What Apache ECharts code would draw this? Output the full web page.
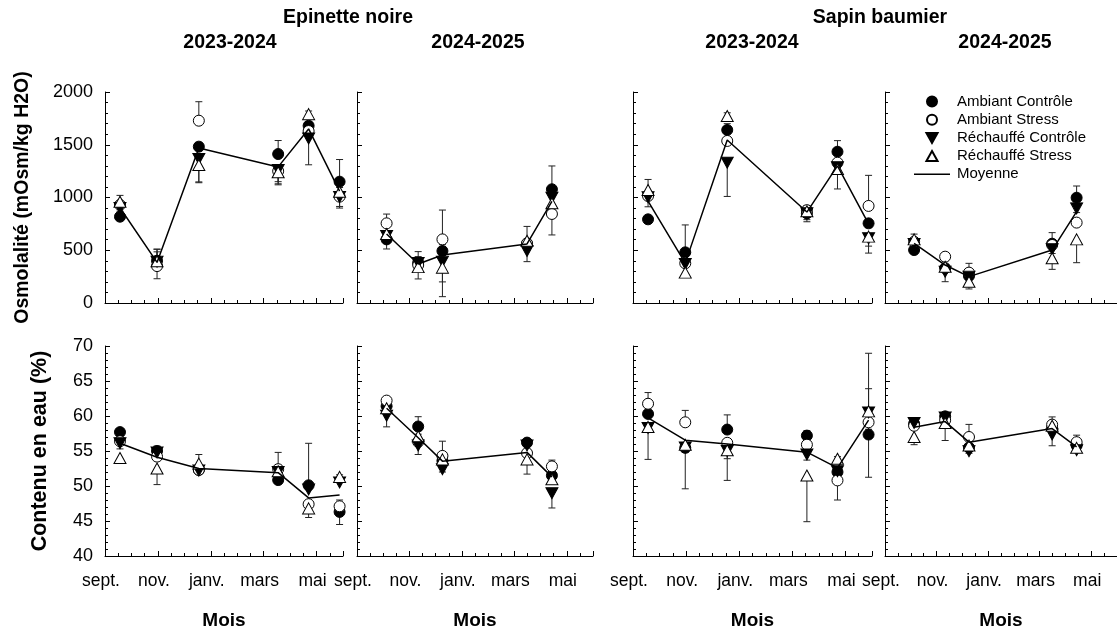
<!DOCTYPE html>
<html><head><meta charset="utf-8">
<script src="https://cdn.jsdelivr.net/npm/echarts@6/dist/echarts.min.js"></script>
<style>html,body{margin:0;padding:0;background:#fff}#c{width:1117px;height:631px}</style>
</head><body><div id="c"></div>
<script>
// ---------- labels ----------
const monthLabels = ['sept.', 'nov.', 'janv.', 'mars', 'mai'];
const speciesTitles = ['Epinette noire', 'Sapin baumier'];
const seasonTitles = ['2023-2024', '2024-2025', '2023-2024', '2024-2025'];
const groupNames = ['Ambiant Contrôle', 'Ambiant Stress', 'Réchauffé Contrôle', 'Réchauffé Stress'];
const meanName = 'Moyenne';
const yNameOsm = 'Osmolalité (mOsm/kg H2O)';
const yNameEau = 'Contenu en eau (%)';
const xName = 'Mois';

// ---------- sampling dates ----------
const dates2324 = ['2023-09-18', '2023-10-31', '2023-12-18', '2024-03-18', '2024-04-22', '2024-05-28'];
const dates2425 = ['2024-10-05', '2024-11-11', '2024-12-09', '2025-03-16', '2025-04-14'];

// ---------- Osmolalité : Epinette noire 2023-2024 ----------
const osm_EN23_AC = [818, 400, 1482, 1412, 1680, 1150];
const osm_EN23_AS = [930, 350, 1728, 1250, 1630, 1008];
const osm_EN23_RC = [900, 392, 1365, 1260, 1560, 1005];
const osm_EN23_RS = [960, 395, 1308, 1240, 1790, 1055];
const osm_EN23_mean = [903, 385, 1470, 1290, 1650, 1060];
const osm_EN23_errAC = [-30, 110, 40, 128, 40, 210];
const osm_EN23_errAS = [30, -120, 180, -130, -50, -108];
const osm_EN23_errRC = [-30, 118, -225, -110, -250, -90];
const osm_EN23_errRS = [60, 90, -160, -110, 30, 40];
// ---------- Osmolalité : Epinette noire 2024-2025 ----------
const osm_EN24_AC = [603, 382, 493, 560, 1078];
const osm_EN24_AS = [755, 360, 603, 566, 844];
const osm_EN24_RC = [635, 380, 392, 493, 998];
const osm_EN24_RS = [654, 340, 335, 590, 945];
const osm_EN24_mean = [654, 370, 455, 560, 963];
const osm_EN24_errAC = [-91, 105, 60, 40, 221];
const osm_EN24_errAS = [88, -60, 278, -40, -199];
const osm_EN24_errRC = [-30, 60, -192, -101, 60];
const osm_EN24_errRS = [30, -112, -275, 136, -60];
// ---------- Osmolalité : Sapin baumier 2023-2024 ----------
const osm_SB23_AC = [793, 480, 1640, 850, 1434, 755];
const osm_SB23_AS = [1014, 376, 1536, 880, 1330, 920];
const osm_SB23_RC = [1002, 370, 1330, 850, 1286, 613];
const osm_SB23_RS = [1071, 288, 1773, 870, 1270, 629];
const osm_SB23_mean = [965, 378, 1545, 862, 1300, 750];
const osm_SB23_errAC = [-30, 260, 60, -80, 105, -40];
const osm_SB23_errAS = [40, -30, -30, 40, -40, 290];
const osm_SB23_errRC = [-90, -30, -320, -60, -205, -140];
const osm_SB23_errRS = [100, -20, 30, 40, -30, -90];
// ---------- Osmolalité : Sapin baumier 2024-2025 ----------
const osm_SB24_AC = [502, 330, 256, 562, 998];
const osm_SB24_AS = [581, 439, 288, 550, 762];
const osm_SB24_RC = [560, 297, 250, 509, 897];
const osm_SB24_RS = [603, 344, 202, 424, 603];
const osm_SB24_mean = [566, 360, 250, 502, 866];
const osm_SB24_errAC = [-30, -30, -20, 105, 111];
const osm_SB24_errAS = [30, 30, 88, 40, -30];
const osm_SB24_errRC = [-20, -95, -20, -40, -40];
const osm_SB24_errRS = [50, 20, -69, -105, -221];

// ---------- Contenu en eau : Epinette noire 2023-2024 ----------
const eau_EN23_AC = [57.7, 55.0, 52.3, 50.85, 50.1, 46.3];
const eau_EN23_AS = [56.4, 54.2, 52.3, 52.4, 47.4, 47.1];
const eau_EN23_RC = [56.1, 54.8, 52.2, 52.0, 49.5, 50.5];
const eau_EN23_RS = [54.0, 52.5, 53.2, 52.1, 46.8, 51.3];
const eau_EN23_mean = [56.1, 54.1, 52.5, 51.9, 48.3, 48.7];
const eau_EN23_errAC = [0.3, 0.7, -0.3, -0.3, 6.0, -1.8];
const eau_EN23_errAS = [0.3, -0.3, 0.3, 2.4, -0.8, 0.9];
const eau_EN23_errRC = [-0.8, 0.5, -0.3, -0.3, 0.3, 0.3];
const eau_EN23_errRS = [-0.4, -2.3, 1.3, 0.3, -1.3, 0.3];
// ---------- Contenu en eau : Epinette noire 2024-2025 ----------
const eau_EN24_AC = [61.4, 58.5, 53.6, 56.2, 51.5];
const eau_EN24_AS = [62.2, 56.3, 54.3, 54.7, 52.8];
const eau_EN24_RC = [60.05, 55.8, 52.4, 55.8, 48.96];
const eau_EN24_RS = [61.1, 57.1, 53.8, 53.8, 50.95];
const eau_EN24_mean = [61.1, 56.9, 53.55, 54.8, 51.3];
const eau_EN24_errAC = [0.3, 1.4, 0.3, 0.4, -0.3];
const eau_EN24_errAS = [0.3, -0.3, 2.1, -0.3, 0.9];
const eau_EN24_errRC = [-1.6, -1.3, -0.4, 0.3, -2.1];
const eau_EN24_errRS = [0.3, 0.3, -0.3, -2.1, -0.3];
// ---------- Contenu en eau : Sapin baumier 2023-2024 ----------
const eau_SB23_AC = [60.3, 55.45, 58.06, 57.2, 52.0, 57.35];
const eau_SB23_AS = [61.75, 59.1, 56.17, 55.9, 50.8, 59.1];
const eau_SB23_RC = [58.3, 55.5, 55.0, 54.5, 52.1, 60.5];
const eau_SB23_RS = [58.44, 55.9, 55.1, 51.5, 53.9, 60.66];
const eau_SB23_mean = [59.72, 56.54, 56.0, 54.83, 52.6, 59.4];
const eau_SB23_errAC = [0.4, -0.6, 2.1, 0.7, -0.3, -6.1];
const eau_SB23_errAS = [1.6, 1.7, 0.3, 0.3, -2.8, -1.0];
const eau_SB23_errRC = [-4.5, -5.9, -4.2, -0.8, 0.3, 3.4];
const eau_SB23_errRS = [-0.8, 0.3, -1.2, -6.6, 0.3, 8.3];
// ---------- Contenu en eau : Sapin baumier 2024-2025 ----------
const eau_SB24_AC = [58.9, 59.95, 55.5, 58.3, 55.8];
const eau_SB24_AS = [58.6, 59.4, 57.0, 58.77, 56.26];
const eau_SB24_RC = [59.0, 59.8, 54.97, 57.35, 55.1];
const eau_SB24_RS = [57.0, 59.0, 55.78, 58.6, 55.45];
const eau_SB24_mean = [58.4, 59.2, 56.26, 58.2, 55.6];
const eau_SB24_errAC = [0.3, 0.5, -0.3, 0.3, 0.3];
const eau_SB24_errAS = [0.3, 0.3, 1.8, 1.1, 1.0];
const eau_SB24_errRC = [-0.3, -0.3, -0.3, -1.6, -0.3];
const eau_SB24_errRS = [-1.1, -2.5, -0.3, 0.3, -0.3];

// ---------- panel assembly ----------
const panels = [
  {row: 0, col: 0, dates: dates2324, start: 2023, vals: [osm_EN23_AC, osm_EN23_AS, osm_EN23_RC, osm_EN23_RS], errs: [osm_EN23_errAC, osm_EN23_errAS, osm_EN23_errRC, osm_EN23_errRS], mean: osm_EN23_mean},
  {row: 0, col: 1, dates: dates2425, start: 2024, vals: [osm_EN24_AC, osm_EN24_AS, osm_EN24_RC, osm_EN24_RS], errs: [osm_EN24_errAC, osm_EN24_errAS, osm_EN24_errRC, osm_EN24_errRS], mean: osm_EN24_mean},
  {row: 0, col: 2, dates: dates2324, start: 2023, vals: [osm_SB23_AC, osm_SB23_AS, osm_SB23_RC, osm_SB23_RS], errs: [osm_SB23_errAC, osm_SB23_errAS, osm_SB23_errRC, osm_SB23_errRS], mean: osm_SB23_mean},
  {row: 0, col: 3, dates: dates2425, start: 2024, vals: [osm_SB24_AC, osm_SB24_AS, osm_SB24_RC, osm_SB24_RS], errs: [osm_SB24_errAC, osm_SB24_errAS, osm_SB24_errRC, osm_SB24_errRS], mean: osm_SB24_mean},
  {row: 1, col: 0, dates: dates2324, start: 2023, vals: [eau_EN23_AC, eau_EN23_AS, eau_EN23_RC, eau_EN23_RS], errs: [eau_EN23_errAC, eau_EN23_errAS, eau_EN23_errRC, eau_EN23_errRS], mean: eau_EN23_mean},
  {row: 1, col: 1, dates: dates2425, start: 2024, vals: [eau_EN24_AC, eau_EN24_AS, eau_EN24_RC, eau_EN24_RS], errs: [eau_EN24_errAC, eau_EN24_errAS, eau_EN24_errRC, eau_EN24_errRS], mean: eau_EN24_mean},
  {row: 1, col: 2, dates: dates2324, start: 2023, vals: [eau_SB23_AC, eau_SB23_AS, eau_SB23_RC, eau_SB23_RS], errs: [eau_SB23_errAC, eau_SB23_errAS, eau_SB23_errRC, eau_SB23_errRS], mean: eau_SB23_mean},
  {row: 1, col: 3, dates: dates2425, start: 2024, vals: [eau_SB24_AC, eau_SB24_AS, eau_SB24_RC, eau_SB24_RS], errs: [eau_SB24_errAC, eau_SB24_errAS, eau_SB24_errRC, eau_SB24_errRS], mean: eau_SB24_mean}
];

const FONT = "'Liberation Sans', Arial, sans-serif";
const colLayout = [{left: 105, width: 238}, {left: 357, width: 236}, {left: 633, width: 239}, {left: 885, width: 238}];
const rowLayout = [{top: 92, height: 211}, {top: 346, height: 211}];
const DOWN_TRI = 'path://M0,0L10,0L5,9Z';
const UP_TRI = 'path://M5,0L10,9L0,9Z';
const MEAN_ICON = 'path://M0,0L36,0L36,1.5L0,1.5Z';
const groupSymbols = ['circle', 'circle', DOWN_TRI, 'triangle'];
const legendIcons = ['circle', 'circle', DOWN_TRI, UP_TRI];
const groupFills = ['#000', '#fff', '#000', '#fff'];
const groupSizes = [11, 11, [12, 11], [12, 11]];

function monthOffset(s, startYear) {
  const [y, m, d] = s.split('-').map(Number);
  const dim = new Date(y, m, 0).getDate();
  return (y * 12 + m - 1) - (startYear * 12 + 8) + (d - 1) / dim;
}

const grids = [], xAxes = [], yAxes = [], series = [];
panels.forEach((p, i) => {
  grids.push({left: colLayout[p.col].left, width: colLayout[p.col].width, top: rowLayout[p.row].top, height: rowLayout[p.row].height, containLabel: false});
  const bottom = p.row === 1;
  xAxes.push({
    type: 'value', gridIndex: i, min: 0, max: 9, interval: 2,
    name: bottom ? xName : '', nameLocation: 'middle', nameGap: 55,
    nameTextStyle: {fontFamily: FONT, fontWeight: 'bold', fontSize: 19, color: '#000'},
    axisLine: {show: true, onZero: false, lineStyle: {color: '#000', width: 1}},
    axisTick: {show: true, inside: true, length: 5, lineStyle: {color: '#000'}},
    minorTick: {show: true, splitNumber: 4, length: 3, lineStyle: {color: '#000'}},
    splitLine: {show: false},
    axisLabel: {show: bottom, margin: 16, fontFamily: FONT, fontSize: 17.5, color: '#000', padding: [0, 8, 0, 0],
      showMaxLabel: false,
      formatter: v => (v % 2 === 0 && v / 2 < monthLabels.length) ? monthLabels[v / 2] : ''}
  });
  const first = p.col === 0;
  const isOsm = p.row === 0;
  yAxes.push({
    type: 'value', gridIndex: i,
    min: isOsm ? 0 : 40, max: isOsm ? 2000 : 70, interval: isOsm ? 500 : 5,
    name: first ? (isOsm ? yNameOsm : yNameEau) : '', nameLocation: 'middle', nameRotate: 90,
    nameGap: isOsm ? 72 : 54,
    nameTextStyle: {fontFamily: FONT, fontWeight: 'bold', fontSize: isOsm ? 19.5 : 21.5, color: '#000'},
    axisLine: {show: true, onZero: false, lineStyle: {color: '#000', width: 1}},
    axisTick: {show: true, inside: true, length: 5, lineStyle: {color: '#000'}},
    minorTick: {show: true, splitNumber: 5, length: 3, lineStyle: {color: '#000'}},
    splitLine: {show: false},
    axisLabel: {show: first, margin: 12, fontFamily: FONT, fontSize: 18, color: '#000', formatter: v => String(v)}
  });
  const xs = p.dates.map(d => monthOffset(d, p.start));
  // error bars
  groupNames.forEach((g, gi) => {
    series.push({
      type: 'custom', name: 'err', xAxisIndex: i, yAxisIndex: i, z: 1, silent: true,
      data: xs.map((x, k) => [x, p.vals[gi][k], p.vals[gi][k] + p.errs[gi][k]]),
      renderItem: (params, api) => {
        const a = api.coord([api.value(0), api.value(1)]);
        const b = api.coord([api.value(0), api.value(2)]);
        const w = 3.5;
        return {type: 'group', children: [
          {type: 'line', shape: {x1: a[0], y1: a[1], x2: b[0], y2: b[1]}, style: {stroke: '#222', lineWidth: 1}},
          {type: 'line', shape: {x1: b[0] - w, y1: b[1], x2: b[0] + w, y2: b[1]}, style: {stroke: '#222', lineWidth: 1}}
        ]};
      }
    });
  });
  groupNames.forEach((g, gi) => {
    series.push({
      type: 'scatter', name: g, xAxisIndex: i, yAxisIndex: i, z: 2,
      symbol: groupSymbols[gi], symbolSize: groupSizes[gi],
      itemStyle: {color: groupFills[gi], borderColor: '#000', borderWidth: 1, opacity: 1},
      data: xs.map((x, k) => [x, p.vals[gi][k]])
    });
  });
  series.push({
    type: 'line', name: meanName, xAxisIndex: i, yAxisIndex: i, z: 3,
    symbol: 'none', lineStyle: {color: '#000', width: 1.5},
    itemStyle: {color: '#000'},
    data: xs.map((x, k) => [x, p.mean[k]])
  });
});

const titles = [
  {text: speciesTitles[0], left: 348, top: 8},
  {text: speciesTitles[1], left: 880, top: 8},
  {text: seasonTitles[0], left: 230, top: 33},
  {text: seasonTitles[1], left: 478, top: 33},
  {text: seasonTitles[2], left: 752, top: 33},
  {text: seasonTitles[3], left: 1005, top: 33}
].map(t => ({text: t.text, left: t.left, top: t.top, textAlign: 'center', padding: 0,
  textStyle: {fontFamily: FONT, fontWeight: 'bold', fontSize: 19.5, color: '#000'}}));

const option = {
  backgroundColor: '#fff',
  animation: false,
  title: titles,
  legend: {
    data: groupNames.map((g, gi) => ({name: g, icon: legendIcons[gi]})).concat([{name: meanName, icon: MEAN_ICON}]),
    orient: 'vertical', left: 914, top: 94, itemWidth: 36, itemHeight: 10, itemGap: 3.2,
    padding: 0, selectedMode: false,
    textStyle: {fontFamily: FONT, fontSize: 15, lineHeight: 14, color: '#000', padding: [0, 0, 0, 2]}
  },
  grid: grids, xAxis: xAxes, yAxis: yAxes, series: series
};
const chart = echarts.init(document.getElementById('c'), null, {renderer: 'canvas'});
chart.setOption(option);
</script></body></html>
